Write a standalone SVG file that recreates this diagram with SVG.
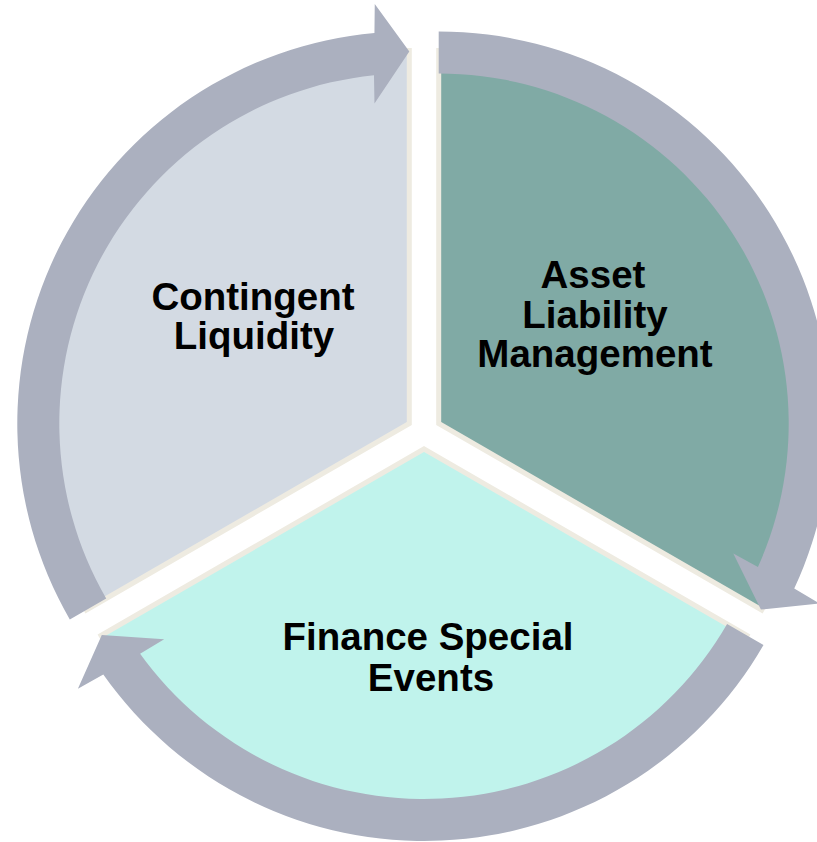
<svg xmlns="http://www.w3.org/2000/svg" width="817" height="842" viewBox="0 0 817 842">
  <style>
    .seg { stroke: #EEEBE1; stroke-width: 5; stroke-linejoin: miter; }
    .arrow { fill: #ABB0BF; }
    .lbl { font-family: "Liberation Sans", Arial, sans-serif; font-weight: bold; font-size: 38.5px; fill: #000; text-anchor: middle; }
  </style>
  <defs>
    <path id="pieShape" d="M 0 0 L 323 186.5 A 373 373 0 0 1 -323 186.5 Z"/>
    <path id="arrowShape" d="M 339.5 196 A 392 392 0 0 1 -320.7 225.4 L -346.1 239.7 L -322.2 186 L -259.8 190.2 L -283.9 204.7 A 350 350 0 0 0 303.1 175 Z"/>
  </defs>
  <rect width="817" height="842" fill="#FFFFFF"/>
  <g id="node-contingent-liquidity">
    <use href="#pieShape" class="seg" fill="#D3DAE3" transform="translate(409.3 423.5) rotate(120)"/>
    <text class="lbl" x="253" y="310">Contingent</text>
    <text class="lbl" x="254" y="349">Liquidity</text>
  </g>
  <g id="node-asset-liability-management">
    <use href="#pieShape" class="seg" fill="#80AAA5" transform="translate(438.7 423.5) rotate(240)"/>
    <text class="lbl" x="593" y="288">Asset</text>
    <text class="lbl" x="595" y="328">Liability</text>
    <text class="lbl" x="595" y="367">Management</text>
  </g>
  <g id="node-finance-special-events">
    <use href="#pieShape" class="seg" fill="#C0F3EC" transform="translate(424 449)"/>
    <text class="lbl" x="428" y="650">Finance Special</text>
    <text class="lbl" x="431" y="691">Events</text>
  </g>
  <g id="connectors">
    <use href="#arrowShape" class="arrow" transform="translate(409.3 423.5) rotate(120)"/>
    <use href="#arrowShape" class="arrow" transform="translate(438.7 423.5) rotate(240)"/>
    <use href="#arrowShape" class="arrow" transform="translate(424 449)"/>
  </g>
</svg>
